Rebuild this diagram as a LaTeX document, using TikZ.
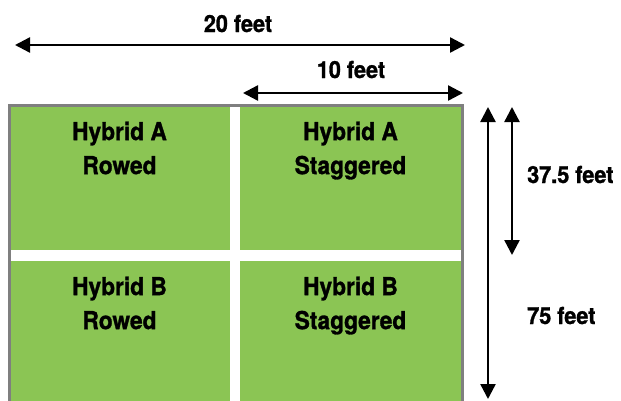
\documentclass[tikz,border=0pt]{standalone}
\usepackage{fontspec}
\setmainfont{TeX Gyre Heros}[FakeStretch=0.92,BoldFeatures={FakeBold=1.2}]
\usetikzlibrary{arrows.meta}
\definecolor{plotgreen}{RGB}{139,197,84}
\definecolor{bordergray}{RGB}{127,127,127}
\begin{document}
\begin{tikzpicture}[x=1pt,y=-1pt,
  dim/.style={line width=2.4pt,{Triangle[length=15pt,width=15pt]}-{Triangle[length=15pt,width=15pt]}},
  lbl/.style={font=\fontsize{23.5}{26}\selectfont\bfseries,inner sep=0pt},
  plot/.style={fill=plotgreen},
  plottext/.style={font=\fontsize{24.7}{34}\selectfont\bfseries,align=center,inner sep=0pt,anchor=north}]
\useasboundingbox (0,0) rectangle (621,400);
\clip (0,0) rectangle (621,400);
% field outline and plots
\fill[bordergray] (8,104) rectangle (464,410);
\fill[white] (11,107) rectangle (461,410);
\fill[plot] (11,107) rectangle (230,250);
\fill[plot] (240,107) rectangle (461,250);
\fill[plot] (11,261) rectangle (230,410);
\fill[plot] (240,261) rectangle (461,410);
% plot labels
\node[plottext] (ar) at (119.5,121.5) {Hybrid A\\Rowed};
\node[plottext] (as) at (350.5,121.5) {Hybrid A\\Staggered};
\node[plottext] (br) at (119.5,276.5) {Hybrid B\\Rowed};
\node[plottext] (bs) at (350.5,276.5) {Hybrid B\\Staggered};
% dimension end points
\coordinate (w20l) at (15,45);
\coordinate (w20r) at (465,45);
\coordinate (w10l) at (243,93);
\coordinate (w10r) at (463,93);
\coordinate (h75t) at (488,107);
\coordinate (h75b) at (488,399);
\coordinate (h37t) at (512,107);
\coordinate (h37b) at (512,255);
\draw[dim] (w20l) -- (w20r);
\draw[dim] (w10l) -- (w10r);
\draw[dim] (h75t) -- (h75b);
\draw[dim] (h37t) -- (h37b);
% dimension labels
\node[lbl,anchor=base] (l20) at (238,32) {20 feet};
\node[lbl,anchor=base] (l10) at (351,78) {10 feet};
\node[lbl,anchor=base west] (l37) at (527,183) {37.5 feet};
\node[lbl,anchor=base west] (l75) at (527,324) {75 feet};
\end{tikzpicture}
\end{document}
